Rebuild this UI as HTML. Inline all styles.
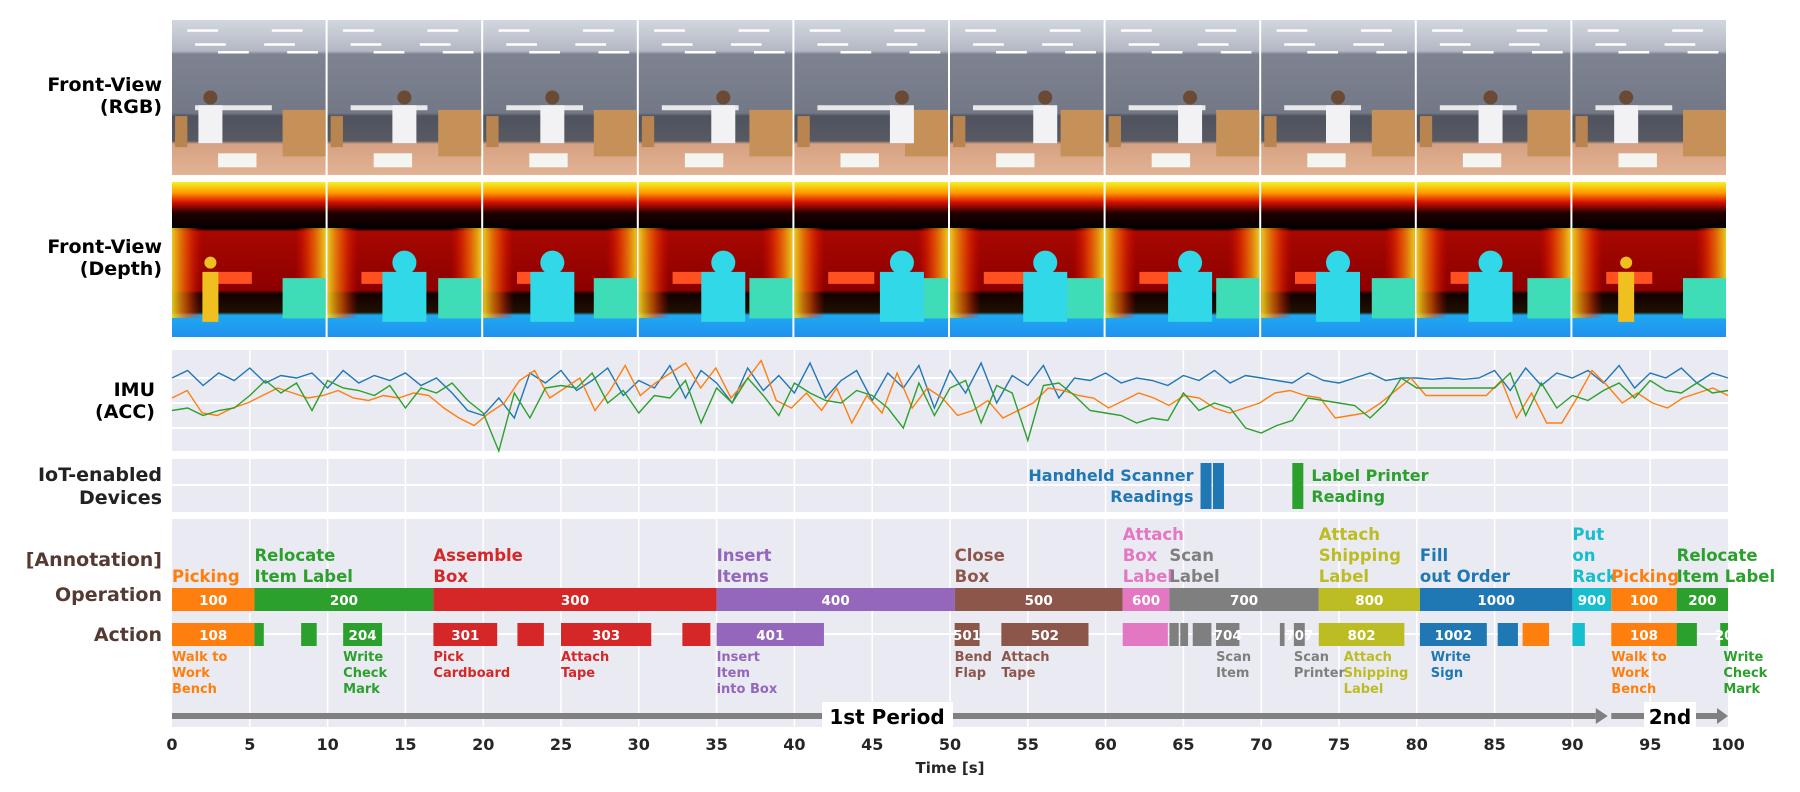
<!DOCTYPE html>
<html><head><meta charset="utf-8"><style>
html,body{margin:0;padding:0;background:#fff;width:1800px;height:792px;overflow:hidden}
svg{display:block;font-family:"DejaVu Sans","Liberation Sans",sans-serif}
</style></head><body>
<svg id="fig" width="1800" height="792" viewBox="0 0 1800 792" xmlns="http://www.w3.org/2000/svg">
<defs>
<linearGradient id="rgbg" x1="0" y1="0" x2="0" y2="1">
<stop offset="0" stop-color="#d3d6de"/><stop offset="0.2" stop-color="#b4b8c4"/><stop offset="0.22" stop-color="#7e8392"/><stop offset="0.6" stop-color="#737886"/><stop offset="0.62" stop-color="#4f535e"/><stop offset="0.78" stop-color="#585a62"/><stop offset="0.8" stop-color="#d7a183"/><stop offset="1" stop-color="#e2b394"/>
</linearGradient>
<linearGradient id="dpv" x1="0" y1="0" x2="0" y2="1">
<stop offset="0" stop-color="#f2f222"/><stop offset="0.07" stop-color="#ff9a00"/><stop offset="0.13" stop-color="#d81000"/><stop offset="0.2" stop-color="#200000"/><stop offset="0.3" stop-color="#000"/><stop offset="0.32" stop-color="#a80800"/><stop offset="0.7" stop-color="#8c0000"/><stop offset="0.72" stop-color="#110000"/><stop offset="0.84" stop-color="#201000"/><stop offset="0.86" stop-color="#1eaaf0"/><stop offset="1" stop-color="#2090f0"/>
</linearGradient>
<linearGradient id="dph" x1="0" y1="0" x2="1" y2="0">
<stop offset="0" stop-color="#f0e020" stop-opacity="0.9"/><stop offset="0.1" stop-color="#ff6000" stop-opacity="0.6"/><stop offset="0.2" stop-color="#ff0000" stop-opacity="0"/><stop offset="0.8" stop-color="#ff0000" stop-opacity="0"/><stop offset="0.9" stop-color="#ff6000" stop-opacity="0.6"/><stop offset="1" stop-color="#f0e020" stop-opacity="0.9"/>
</linearGradient>
</defs>
<g id="frames"></g>
<g id="imu"></g>
<g id="iot"></g>
<g id="ann"></g>
<g id="labels"></g>
</svg>
<script>
// ---------- data ----------
const imuBlue=[1.0,1.3,0.7,1.2,0.9,1.4,0.8,1.1,1.0,1.2,0.6,1.3,0.8,1.1,0.9,1.2,0.7,1.0,0.4,-0.3,-0.5,0.2,-0.6,1.2,0.8,1.3,0.5,0.9,1.4,0.3,0.9,0.6,1.5,0.2,1.3,0.8,0.0,1.4,0.5,1.1,0.4,1.6,0.2,0.9,1.3,0.1,1.2,0.6,1.5,-0.2,1.3,0.4,1.6,0.0,1.1,0.7,1.5,0.2,1.0,0.9,1.2,0.8,1.0,0.9,0.7,1.1,0.9,1.3,0.8,1.1,1.0,0.9,0.8,1.2,0.9,0.8,1.0,1.2,0.9,1.0,1.0,0.95,1.0,0.95,1.0,1.3,0.5,1.4,0.7,1.2,1.0,1.3,0.8,1.5,0.6,1.2,1.0,1.4,0.8,1.2,1.0];
const imuOrange=[0.2,0.5,-0.4,-0.5,-0.2,0.0,0.3,0.6,0.4,0.2,0.3,0.5,0.2,0.1,0.3,0.2,0.4,0.3,-0.2,-0.6,-0.9,-0.4,0.0,0.9,1.3,0.2,0.6,1.0,-0.3,0.5,1.5,0.3,0.8,1.2,1.6,0.6,1.4,0.2,0.9,1.7,0.1,-0.2,0.4,-0.3,0.6,-0.8,0.3,-0.4,1.2,-0.2,0.6,0.2,-0.5,-0.3,0.1,-0.6,-0.3,0.0,0.6,0.5,0.3,0.2,-0.2,0.1,0.4,0.2,-0.1,0.3,0.2,-0.2,-0.4,-0.2,0.0,0.4,0.5,0.3,0.2,-0.6,-0.5,-0.4,0.0,0.5,1.0,0.3,0.3,0.3,0.3,0.3,0.9,-0.6,0.4,-0.8,-0.8,0.2,1.3,0.7,0.0,0.4,0.0,-0.2,0.2,0.4,0.6,0.3];
const imuGreen=[-0.3,-0.2,-0.5,-0.3,-0.2,0.3,0.9,0.4,0.8,-0.3,0.9,0.6,0.5,0.3,0.7,-0.2,0.6,0.4,0.8,0.1,-0.4,-2.0,0.4,-0.6,0.6,0.7,0.6,1.2,0.0,0.5,-0.4,0.3,0.2,0.9,-0.8,0.6,0.0,1.0,0.3,-0.5,0.8,0.4,0.1,0.0,0.5,0.3,-0.2,-1.0,0.8,-0.5,0.6,0.9,-0.8,0.7,0.4,-1.5,0.7,0.8,0.3,-0.3,-0.4,-0.5,-0.8,-0.6,-0.7,0.4,-0.3,0.0,-0.2,-1.0,-1.2,-0.9,-0.7,0.2,0.1,0.0,-0.1,-0.6,0.0,1.0,0.6,0.6,0.6,0.6,0.6,0.6,1.2,-0.5,0.8,-0.2,0.3,0.1,0.5,0.8,0.2,0.9,0.5,0.4,0.8,0.4,0.5];
const xTicks=[0,5,10,15,20,25,30,35,40,45,50,55,60,65,70,75,80,85,90,95,100];
const opStart=[0,5.3,16.8,35,50.3,61.1,64.1,73.7,80.2,90,92.5,96.7];
const opEnd=[5.3,16.8,35,50.3,61.1,64.1,73.7,80.2,90,92.5,96.7,100];
const opCode=["100","200","300","400","500","600","700","800","1000","900","100","200"];
const opColor=["#ff7f0e","#2ca02c","#d62728","#9467bd","#8c564b","#e377c2","#7f7f7f","#bcbd22","#1f77b4","#17becf","#ff7f0e","#2ca02c"];
const opName=[["Picking"],["Relocate","Item Label"],["Assemble","Box"],["Insert","Items"],["Close","Box"],["Attach","Box","Label"],["Scan","Label"],["Attach","Shipping","Label"],["Fill","out Order"],["Put","on","Rack"],["Picking"],["Relocate","Item Label"]];
const actStart=[0,5.3,8.3,11.0,16.8,22.2,25.0,32.8,35,50.3,53.3,61.1,64.1,64.8,65.6,67.1,71.2,72.1,73.7,80.2,85.2,86.8,90.0,92.5,96.7,99.5];
const actEnd=[5.3,5.9,9.3,13.5,20.9,23.9,30.8,34.6,41.9,51.9,58.9,64.0,64.7,65.3,66.8,68.6,71.5,72.8,79.2,84.5,86.5,88.5,90.8,96.7,98.0,100];
const actCode=["108","","","204","301","","303","","401","501","502","","","","","704","","707","802","1002","","","","108","","20"];
const actColor=["#ff7f0e","#2ca02c","#2ca02c","#2ca02c","#d62728","#d62728","#d62728","#d62728","#9467bd","#8c564b","#8c564b","#e377c2","#7f7f7f","#7f7f7f","#7f7f7f","#7f7f7f","#7f7f7f","#7f7f7f","#bcbd22","#1f77b4","#1f77b4","#ff7f0e","#17becf","#ff7f0e","#2ca02c","#2ca02c"];
const descT=[0,11.0,16.8,25.0,35,50.3,53.3,67.1,72.1,75.3,80.9,92.5,99.7];
const descText=[["Walk to","Work","Bench"],["Write","Check","Mark"],["Pick","Cardboard"],["Attach","Tape"],["Insert","Item","into Box"],["Bend","Flap"],["Attach","Tape"],["Scan","Item"],["Scan","Printer"],["Attach","Shipping","Label"],["Write","Sign"],["Walk to","Work","Bench"],["Write","Check","Mark"]];
const descColor=["#ff7f0e","#2ca02c","#d62728","#d62728","#9467bd","#8c564b","#8c564b","#7f7f7f","#7f7f7f","#bcbd22","#1f77b4","#ff7f0e","#2ca02c"];
const scanT=[66.1,66.9];
const printT=[72.0];
// ---------- helpers ----------
const NS="http://www.w3.org/2000/svg";
const X0=172,X1=1728;
const sx=t=>X0+(X1-X0)*t/100;
function el(tag,attrs,parent){const e=document.createElementNS(NS,tag);for(const k in attrs)e.setAttribute(k,attrs[k]);parent.appendChild(e);return e;}
function txt(str,attrs,parent){const e=el("text",attrs,parent);e.textContent=str;return e;}
// ---------- frames ----------
const gF=document.getElementById("frames");
const fw=(X1-X0)/10;
const personX=[0.25,0.5,0.45,0.55,0.7,0.62,0.55,0.5,0.48,0.35];
for(let i=0;i<10;i++){
  const x=X0+i*fw, w=fw-2;
  const g=el("g",{},gF);
  
  
  el("rect",{x:x,y:20,width:w,height:155,fill:"url(#rgbg)"},g);
  for(const [lx,ly] of [[0.1,0.06],[0.65,0.06],[0.15,0.15],[0.6,0.15],[0.3,0.2],[0.75,0.2]]) el("rect",{x:x+lx*w,y:20+ly*155,width:w*0.2,height:2.5,fill:"#fff"},g);
  el("rect",{x:x+0.15*w,y:20+0.55*155,width:w*0.5,height:5,fill:"#e8e8ea"},g);
  el("rect",{x:x+0.72*w,y:20+0.58*155,width:w*0.28,height:0.3*155,fill:"#c59158"},g);
  el("rect",{x:x+0.02*w,y:20+0.62*155,width:w*0.08,height:0.2*155,fill:"#b88550"},g);
  const px=x+personX[i]*w;
  el("circle",{cx:px,cy:20+0.5*155,r:7,fill:"#6a4a35"},g);
  el("rect",{x:px-12,y:20+0.55*155,width:24,height:38,fill:"#f2f2f4"},g);
  el("rect",{x:x+0.3*w,y:20+0.86*155,width:w*0.25,height:14,fill:"#f4f4f0"},g);
  const d=el("g",{},gF);
  
  
  el("rect",{x:x,y:182,width:w,height:155,fill:"url(#dpv)"},d);
  el("rect",{x:x,y:228,width:w,height:90,fill:"url(#dph)"},d);
  el("rect",{x:x+0.72*w,y:182+0.62*155,width:w*0.28,height:0.26*155,fill:"#3fdcb8"},d);
  el("rect",{x:x+0.22*w,y:182+0.58*155,width:w*0.3,height:12,fill:"#ff5020"},d);
  const col=(i==0||i==9)?"#f0c020":"#30d8e8";
  el("circle",{cx:px,cy:182+0.52*155,r:(i==0||i==9)?6:12,fill:col},d);
  el("rect",{x:px-((i==0||i==9)?8:22),y:182+0.58*155,width:(i==0||i==9)?16:44,height:50,fill:col},d);
}
// ---------- IMU ----------
const gI=document.getElementById("imu");
const IT=350,IB=451;
const iy=v=>Math.max(IT,Math.min(IB,403-25*v));
el("rect",{x:X0,y:IT,width:X1-X0,height:IB-IT,fill:"#eaeaf2"},gI);
for(const v of [1,0,-1]) el("line",{x1:X0,x2:X1,y1:403-25*v,y2:403-25*v,stroke:"#fff","stroke-width":2},gI);
for(const t of xTicks.slice(1,-1)) el("line",{x1:sx(t),x2:sx(t),y1:IT,y2:IB,stroke:"#fff","stroke-width":1.5},gI);
const series=[[imuBlue,"#1f77b4","imu-line-blue"],[imuOrange,"#ff7f0e","imu-line-orange"],[imuGreen,"#2ca02c","imu-line-green"]];
for(const [arr,c,nm] of series){
  const dt=100/(arr.length-1);
  const p=el("polyline",{points:arr.map((v,k)=>sx(k*dt).toFixed(1)+","+iy(v).toFixed(1)).join(" "),fill:"none",stroke:c,"stroke-width":1.4},gI);
  
  
}
// ---------- IoT ----------
const gT=document.getElementById("iot");
el("rect",{x:X0,y:459,width:X1-X0,height:53,fill:"#eaeaf2"},gT);
el("line",{x1:X0,x2:X1,y1:485,y2:485,stroke:"#fff","stroke-width":2},gT);
for(const t of xTicks.slice(1,-1)) el("line",{x1:sx(t),x2:sx(t),y1:459,y2:512,stroke:"#fff","stroke-width":1.5},gT);
for(const t of scanT){const r=el("rect",{x:sx(t),y:463,width:11,height:46,fill:"#1f77b4"},gT);
  
  }
for(const t of printT){const r=el("rect",{x:sx(t),y:463,width:11,height:46,fill:"#2ca02c"},gT);
  
  }
txt("Handheld Scanner",{x:sx(scanT[0])-7,y:481,"text-anchor":"end","font-size":16,"font-weight":"bold",fill:"#1f77b4"},gT);
txt("Readings",{x:sx(scanT[0])-7,y:502,"text-anchor":"end","font-size":16,"font-weight":"bold",fill:"#1f77b4"},gT);
txt("Label Printer",{x:sx(printT[0])+19,y:481,"font-size":16,"font-weight":"bold",fill:"#2ca02c"},gT);
txt("Reading",{x:sx(printT[0])+19,y:502,"font-size":16,"font-weight":"bold",fill:"#2ca02c"},gT);
// ---------- annotation ----------
const gA=document.getElementById("ann");
el("rect",{x:X0,y:519,width:X1-X0,height:208,fill:"#eaeaf2"},gA);
for(const t of xTicks.slice(1,-1)) el("line",{x1:sx(t),x2:sx(t),y1:519,y2:727,stroke:"#fff","stroke-width":1.5},gA);
el("line",{x1:X0,x2:X1,y1:600,y2:600,stroke:"#fff","stroke-width":2},gA);
el("line",{x1:X0,x2:X1,y1:634,y2:634,stroke:"#fff","stroke-width":2},gA);
for(let i=0;i<opStart.length;i++){
  const r=el("rect",{x:sx(opStart[i]),y:588,width:sx(opEnd[i])-sx(opStart[i]),height:23,fill:opColor[i]},gA);
  
  
  txt(opCode[i],{x:(sx(opStart[i])+sx(opEnd[i]))/2,y:605,"text-anchor":"middle","font-size":13.5,"font-weight":"bold",fill:"#fff"},gA);
  const lines=opName[i];
  lines.forEach((s,k)=>{
    const t=txt(s,{x:sx(opStart[i]),y:582-(lines.length-1-k)*21,"font-size":16.5,"font-weight":"bold",fill:opColor[i]},gA);
    
    
  });
}
for(let i=0;i<actStart.length;i++){
  const r=el("rect",{x:sx(actStart[i]),y:623,width:sx(actEnd[i])-sx(actStart[i]),height:23,fill:actColor[i]},gA);
  
  
  if(actCode[i]) txt(actCode[i],{x:(sx(actStart[i])+sx(actEnd[i]))/2,y:640,"text-anchor":"middle","font-size":13.5,"font-weight":"bold",fill:"#fff"},gA);
}
for(let i=0;i<descT.length;i++){
  descText[i].forEach((s,k)=>{
    const t=txt(s,{x:sx(descT[i]),y:661+k*16,"font-size":13,"font-weight":"bold",fill:descColor[i]},gA);
    
    
  });
}
el("line",{x1:X0,x2:sx(91.5),y1:716,y2:716,stroke:"#808080","stroke-width":6},gA);
el("polygon",{points:`${sx(91.5)},708 ${sx(91.5)+12},716 ${sx(91.5)},724`,fill:"#808080"},gA);
el("line",{x1:sx(92.5),x2:X1-10,y1:716,y2:716,stroke:"#808080","stroke-width":6},gA);
el("polygon",{points:`${X1-11},708 ${X1},716 ${X1-11},724`,fill:"#808080"},gA);
el("rect",{x:822,y:702,width:131,height:28,fill:"#fff"},gA);
txt("1st Period",{x:887,y:724,"text-anchor":"middle","font-size":20,"font-weight":"bold",fill:"#000"},gA);
el("rect",{x:1644,y:702,width:52,height:28,fill:"#fff"},gA);
txt("2nd",{x:1670,y:724,"text-anchor":"middle","font-size":20,"font-weight":"bold",fill:"#000"},gA);
// ---------- axis ----------
const gL=document.getElementById("labels");
for(const t of xTicks){
  const e=txt(String(t),{x:sx(t),y:750,"text-anchor":"middle","font-size":16,"font-weight":"bold",fill:"#262626"},gL);
  
  
}
txt("Time [s]",{x:950,y:773,"text-anchor":"middle","font-size":15,"font-weight":"bold",fill:"#262626"},gL);
const rowLabels=[["Front-View",91,"#000",162],["(RGB)",113,"#000",162],["Front-View",253,"#000",162],["(Depth)",275,"#000",162],["IMU",396,"#000",155],["(ACC)",418,"#000",155],["IoT-enabled",481,"#222",162],["Devices",504,"#222",162],["[Annotation]",566,"#553a33",162],["Operation",601,"#553a33",162],["Action",641,"#553a33",162]];
for(const [s,y,c,x] of rowLabels){
  const e=txt(s,{x:x,y:y,"text-anchor":"end","font-size":19,"font-weight":"bold",fill:c},gL);
  
  
}
</script>
</body></html>
